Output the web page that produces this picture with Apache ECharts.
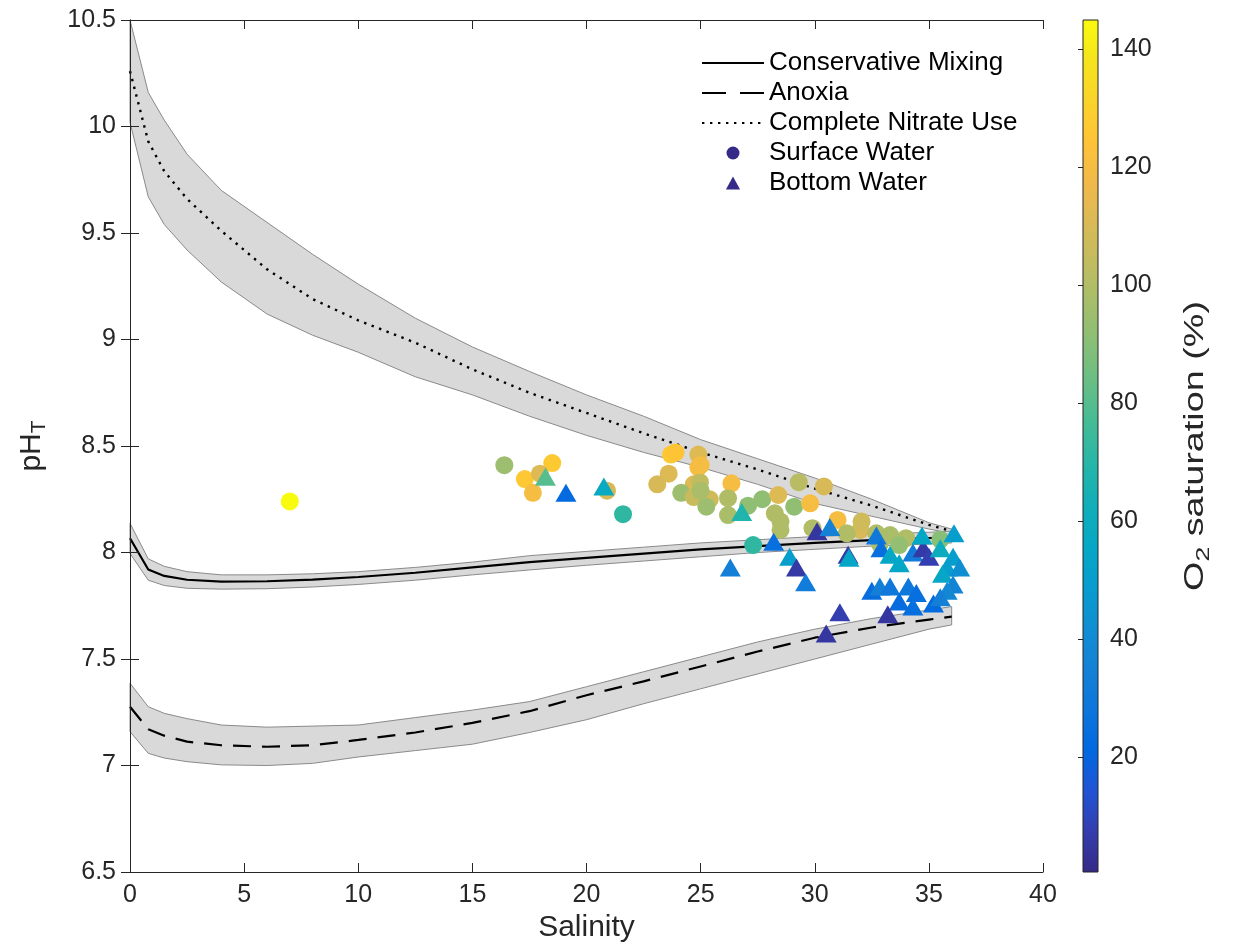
<!DOCTYPE html>
<html>
<head>
<meta charset="utf-8">
<script src="https://cdn.jsdelivr.net/npm/echarts@6/dist/echarts.min.js"></script>
<style>
  html, body { margin: 0; padding: 0; background: #fff; }
  #chart { width: 1234px; height: 951px; }
</style>
</head>
<body>
<div id="chart"></div>
<script>
// model salinity grid
const salinity = [0, 0.8, 1.5, 2.5, 4, 6, 8, 10, 12.5, 15, 17.5, 20, 22.5, 25, 27.5, 30, 32.5, 35, 36];

// complete nitrate use (dotted) with its envelope
const nitrateMid = [10.26, 9.93, 9.79, 9.66, 9.51, 9.33, 9.19, 9.09, 8.985, 8.86, 8.75, 8.655, 8.56, 8.47, 8.39, 8.30, 8.22, 8.13, 8.10];
const nitrateHi = [10.50, 10.16, 10.03, 9.87, 9.70, 9.55, 9.40, 9.26, 9.10, 8.965, 8.85, 8.74, 8.64, 8.53, 8.44, 8.35, 8.25, 8.14, 8.11];
const nitrateLo = [10.02, 9.67, 9.54, 9.42, 9.27, 9.12, 9.02, 8.94, 8.825, 8.74, 8.64, 8.55, 8.47, 8.40, 8.32, 8.23, 8.17, 8.11, 8.09];

// conservative mixing (solid)
const conservMid = [8.067, 7.92, 7.89, 7.872, 7.863, 7.865, 7.873, 7.885, 7.905, 7.93, 7.955, 7.975, 7.995, 8.015, 8.03, 8.045, 8.058, 8.068, 8.07];
const conservHi = [8.137, 7.97, 7.935, 7.91, 7.895, 7.895, 7.90, 7.91, 7.93, 7.955, 7.985, 8.005, 8.025, 8.045, 8.06, 8.075, 8.085, 8.095, 8.10];
const conservLo = [7.996, 7.87, 7.845, 7.832, 7.828, 7.83, 7.838, 7.85, 7.87, 7.895, 7.918, 7.94, 7.96, 7.98, 8.00, 8.015, 8.03, 8.04, 8.045];

// anoxia (dashed)
const anoxiaMid = [7.276, 7.17, 7.14, 7.112, 7.095, 7.088, 7.095, 7.12, 7.155, 7.20, 7.255, 7.33, 7.395, 7.465, 7.535, 7.60, 7.648, 7.685, 7.699];
const anoxiaHi = [7.386, 7.276, 7.245, 7.22, 7.19, 7.18, 7.185, 7.19, 7.225, 7.26, 7.30, 7.37, 7.44, 7.51, 7.58, 7.64, 7.69, 7.73, 7.746];
const anoxiaLo = [7.159, 7.057, 7.035, 7.018, 7.003, 7.0, 7.01, 7.04, 7.07, 7.10, 7.155, 7.215, 7.29, 7.36, 7.43, 7.50, 7.57, 7.64, 7.66];

// observations: [salinity, pH_T, O2 saturation %]
const surfaceWater = [
  [7.0, 8.24, 145], [16.4, 8.41, 95], [17.3, 8.345, 126], [18.5, 8.42, 127], [17.96, 8.37, 112],
  [17.65, 8.28, 120], [20.9, 8.29, 110], [21.6, 8.18, 72], [23.7, 8.46, 127], [23.9, 8.47, 125],
  [24.9, 8.46, 112], [24.9, 8.40, 120], [23.6, 8.37, 112], [23.1, 8.32, 110], [24.7, 8.32, 112],
  [24.97, 8.33, 104], [24.15, 8.28, 95], [24.7, 8.26, 106], [25.4, 8.25, 108], [25.25, 8.215, 95],
  [26.35, 8.325, 120], [26.2, 8.255, 100], [26.2, 8.176, 98], [27.08, 8.22, 92], [27.7, 8.25, 92],
  [28.4, 8.27, 112], [28.25, 8.184, 100], [28.5, 8.145, 100], [28.5, 8.106, 100], [29.1, 8.215, 92],
  [29.3, 8.33, 102], [29.8, 8.231, 120], [30.4, 8.31, 110], [29.9, 8.114, 100], [31.0, 8.153, 120],
  [32.0, 8.106, 110], [27.3, 8.035, 72], [32.05, 8.145, 108], [31.4, 8.09, 100], [32.7, 8.09, 100],
  [33.3, 8.082, 98], [34.0, 8.067, 100], [33.7, 8.035, 93], [32.85, 8.04, 100], [35.5, 8.06, 90],
  [25.0, 8.41, 120], [25.0, 8.29, 98]
];
const bottomWater = [
  [18.2, 8.356, 80], [19.1, 8.28, 22], [20.76, 8.31, 58], [26.3, 7.93, 34], [26.8, 8.19, 68],
  [30.1, 8.10, 5], [30.66, 8.12, 35], [28.2, 8.05, 25], [28.9, 7.98, 50], [29.2, 7.93, 6],
  [29.6, 7.86, 32], [31.46, 7.99, 6], [31.5, 7.975, 55], [32.7, 8.08, 30], [32.9, 8.02, 25],
  [33.3, 7.99, 55], [33.7, 7.95, 55], [34.3, 8.0, 32], [34.75, 8.02, 6], [35.0, 7.98, 8],
  [34.7, 8.08, 55], [35.5, 8.02, 60], [36.1, 8.09, 50], [36.06, 7.98, 50], [35.8, 7.93, 50],
  [36.35, 7.93, 42], [35.6, 7.90, 55], [36.06, 7.85, 36], [35.8, 7.82, 38], [32.5, 7.82, 24],
  [32.85, 7.84, 34], [33.3, 7.84, 30], [34.1, 7.84, 30], [34.45, 7.81, 25], [33.7, 7.77, 24],
  [34.3, 7.746, 25], [35.2, 7.76, 22], [35.5, 7.79, 34], [31.1, 7.72, 8], [33.2, 7.71, 5],
  [30.5, 7.62, 5]
];

// colour scale (parula) and colorbar
const o2Range = [0.5, 145];
const o2Ticks = [20, 40, 60, 80, 100, 120, 140];
const parula = ['#352a87', '#353dad', '#2053d4', '#0268e1', '#0d75dc', '#1481d6', '#108ed2', '#079ccf',
  '#06a7c6', '#0faeb9', '#25b5a9', '#42bb98', '#65be86', '#87bf77', '#a5be6b', '#c0bc60',
  '#d9ba56', '#f1b94a', '#ffc337', '#fad32a', '#f5e41d', '#f9fb0e'];

const FONT = 'Liberation Sans, Arial, Helvetica, sans-serif';
const AXIS_COLOR = '#262626';

const pairs = (ys) => salinity.map((s, i) => [s, ys[i]]);

function bandSeries(hi, lo) {
  return {
    type: 'custom',
    xAxisIndex: 0,
    yAxisIndex: 0,
    silent: true,
    z: 1,
    data: [[salinity[0], lo[0]]],
    renderItem: function (params, api) {
      const pts = [];
      salinity.forEach((s, i) => pts.push(api.coord([s, hi[i]])));
      for (let i = salinity.length - 1; i >= 0; i--) pts.push(api.coord([salinity[i], lo[i]]));
      return {
        type: 'polygon',
        shape: { points: pts },
        style: { fill: '#d9d9d9', stroke: '#8a8a8a', lineWidth: 1 }
      };
    }
  };
}

function frameAxis(extra) {
  return Object.assign({
    axisLine: { show: true, lineStyle: { color: AXIS_COLOR, width: 1 } },
    axisTick: { show: true, inside: true, length: 9, lineStyle: { color: AXIS_COLOR } },
    splitLine: { show: false },
    z: 10
  }, extra);
}

const chart = echarts.init(document.getElementById('chart'));

const option = {
  backgroundColor: '#fff',
  animation: false,
  textStyle: { fontFamily: FONT },
  grid: [
    { left: 130, right: 191, top: 20, bottom: 79 },
    { left: 1083, width: 15, top: 20, bottom: 79 }
  ],
  xAxis: [
    frameAxis({
      type: 'value', gridIndex: 0, min: 0, max: 40, interval: 5, position: 'bottom',
      axisLabel: { fontSize: 25, color: AXIS_COLOR, margin: 11, fontFamily: FONT },
      name: 'Salinity', nameLocation: 'middle', nameGap: 40,
      nameTextStyle: { fontSize: 30, color: AXIS_COLOR, fontFamily: FONT }
    }),
    frameAxis({
      type: 'value', gridIndex: 0, min: 0, max: 40, interval: 5, position: 'top',
      axisLabel: { show: false }
    }),
    { type: 'value', gridIndex: 1, min: 0, max: 1, show: false }
  ],
  yAxis: [
    frameAxis({
      type: 'value', gridIndex: 0, min: 6.5, max: 10.5, interval: 0.5, position: 'left',
      axisLabel: { fontSize: 25, color: AXIS_COLOR, margin: 14, fontFamily: FONT },
      name: '{a|pH}{b|T}', nameLocation: 'middle', nameGap: 80, nameRotate: 90,
      nameTextStyle: {
        color: AXIS_COLOR,
        rich: {
          a: { fontSize: 30, fontFamily: FONT, color: AXIS_COLOR },
          b: { fontSize: 21, fontFamily: FONT, color: AXIS_COLOR, padding: [16, 0, 0, 0] }
        }
      }
    }),
    frameAxis({
      type: 'value', gridIndex: 0, min: 6.5, max: 10.5, interval: 0.5, position: 'right',
      axisLabel: { show: false }
    }),
    {
      type: 'value', gridIndex: 1, min: o2Range[0], max: o2Range[1], position: 'right', z: 10,
      axisLine: { show: false },
      axisTick: { show: true, inside: true, length: 5, customValues: o2Ticks, lineStyle: { color: AXIS_COLOR } },
      axisLabel: { show: true, customValues: o2Ticks, fontSize: 25, color: AXIS_COLOR, margin: 12, fontFamily: FONT },
      splitLine: { show: false }
    }
  ],
  graphic: [
    {
      type: 'text',
      x: 1196,
      y: 446,
      rotation: Math.PI / 2,
      scaleX: 1.4,
      style: {
        text: '{a|O}{b|2}{a| saturation (%)}',
        align: 'center',
        verticalAlign: 'middle',
        rich: {
          a: { fontSize: 27, fontFamily: FONT, fill: AXIS_COLOR },
          b: { fontSize: 19, fontFamily: FONT, fill: AXIS_COLOR, padding: [15, 0, 0, 0] }
        }
      }
    }
  ],
  legend: {
    left: 696,
    top: 45,
    orient: 'vertical',
    itemWidth: 62,
    itemHeight: 13,
    itemGap: 4,
    symbolKeepAspect: true,
    backgroundColor: 'transparent',
    textStyle: { fontSize: 26, color: '#000', fontFamily: FONT, lineHeight: 26 },
    data: [
      { name: 'Conservative Mixing', itemStyle: { opacity: 0 } },
      { name: 'Anoxia', itemStyle: { opacity: 0 }, lineStyle: { type: [24, 14] } },
      { name: 'Complete Nitrate Use', itemStyle: { opacity: 0 } },
      { name: 'Surface Water', icon: 'circle', itemStyle: { color: '#352a87' } },
      { name: 'Bottom Water', icon: 'path://M6,0L12,11L0,11Z', itemStyle: { color: '#352a87' } }
    ]
  },
  visualMap: {
    type: 'continuous',
    show: false,
    min: o2Range[0],
    max: o2Range[1],
    dimension: 2,
    seriesIndex: [6, 7],
    inRange: { color: parula }
  },
  series: [
    bandSeries(nitrateHi, nitrateLo),
    bandSeries(conservHi, conservLo),
    bandSeries(anoxiaHi, anoxiaLo),
    {
      name: 'Conservative Mixing', type: 'line', symbol: 'none', z: 3, silent: true,
      data: pairs(conservMid),
      lineStyle: { color: '#000', width: 2.2, type: 'solid' },
      itemStyle: { color: '#000' }
    },
    {
      name: 'Anoxia', type: 'line', symbol: 'none', z: 3, silent: true,
      data: pairs(anoxiaMid),
      lineStyle: { color: '#000', width: 2.2, type: [18, 11] },
      itemStyle: { color: '#000' }
    },
    {
      name: 'Complete Nitrate Use', type: 'line', symbol: 'none', z: 3, silent: true,
      data: pairs(nitrateMid),
      lineStyle: { color: '#000', width: 2.4, type: [2.4, 5.6] },
      itemStyle: { color: '#000' }
    },
    {
      name: 'Surface Water', type: 'scatter', symbol: 'circle', symbolSize: 18, z: 4,
      itemStyle: { color: '#352a87', opacity: 1 },
      data: surfaceWater
    },
    {
      name: 'Bottom Water', type: 'scatter', symbol: 'triangle', symbolSize: [21, 18], z: 5,
      itemStyle: { color: '#352a87', opacity: 1 },
      data: bottomWater
    },
    {
      type: 'custom', xAxisIndex: 2, yAxisIndex: 2, silent: true, z: 1,
      data: [[0, o2Range[0]]],
      renderItem: function (params, api) {
        const top = api.coord([0, o2Range[1]]);
        const bottom = api.coord([0, o2Range[0]]);
        const cs = params.coordSys;
        const stops = parula.map((c, i) => ({ offset: i / (parula.length - 1), color: c }));
        return {
          type: 'rect',
          shape: { x: cs.x, y: top[1], width: cs.width, height: bottom[1] - top[1] },
          style: {
            fill: new echarts.graphic.LinearGradient(0, 1, 0, 0, stops),
            stroke: AXIS_COLOR,
            lineWidth: 1
          }
        };
      }
    }
  ]
};

chart.setOption(option);
</script>
</body>
</html>
